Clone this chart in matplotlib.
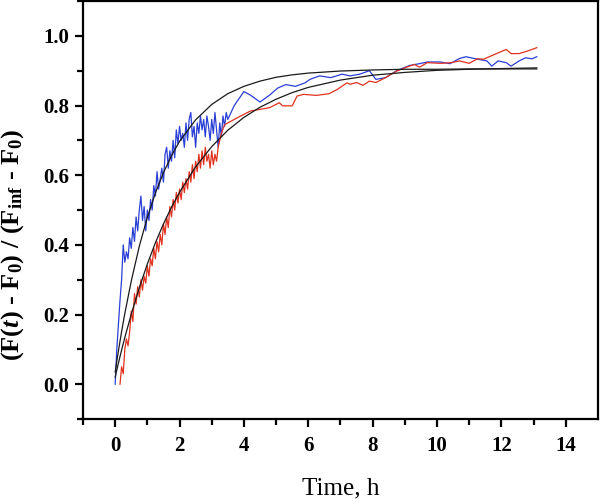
import numpy as np
import matplotlib
matplotlib.use("Agg")
import matplotlib.pyplot as plt

plt.rcParams["font.family"] = "Liberation Serif"
plt.rcParams["mathtext.fontset"] = "custom"
plt.rcParams["mathtext.rm"] = "Liberation Serif"
plt.rcParams["mathtext.bf"] = "Liberation Serif:bold"
plt.rcParams["mathtext.it"] = "Liberation Serif:italic"
plt.rcParams["mathtext.bfit"] = "Liberation Serif:bold:italic"

# blue series, dense part (every 0.05 h from t = 0)
blue_dense = [0.00, 0.10, 0.17, 0.24, 0.30, 0.40, 0.35, 0.38, 0.36, 0.42,
              0.39, 0.45, 0.41, 0.48, 0.44, 0.50, 0.54, 0.47, 0.51, 0.44,
              0.50, 0.47, 0.53, 0.50, 0.57, 0.54, 0.61, 0.56, 0.59, 0.62,
              0.58, 0.66, 0.68, 0.62, 0.67, 0.64, 0.70, 0.65, 0.73, 0.69,
              0.74, 0.70, 0.72, 0.68, 0.75, 0.70, 0.76, 0.78, 0.71, 0.74,
              0.68, 0.75, 0.72, 0.77, 0.73, 0.76, 0.71, 0.77, 0.74, 0.70,
              0.76, 0.72, 0.78, 0.73, 0.68, 0.75, 0.71, 0.77, 0.74, 0.78,
              0.76]
# blue series, sparse part
blue_t = [3.6, 3.7, 3.85, 4.0, 4.2, 4.5, 4.8, 5.05, 5.3, 5.6, 5.9, 6.05, 6.35,
          6.7, 7.05, 7.3, 7.6, 7.9, 8.1, 8.4, 8.75, 9.15, 9.45, 9.7, 10.1,
          10.4, 10.7, 10.9, 11.25, 11.55, 11.7, 11.9, 12.15, 12.3, 12.55,
          12.75, 12.95, 13.1]
blue_y = [0.78, 0.80, 0.82, 0.84, 0.83, 0.81, 0.83, 0.85, 0.86, 0.855, 0.865,
          0.875, 0.885, 0.88, 0.89, 0.885, 0.89, 0.90, 0.875, 0.88, 0.90,
          0.915, 0.92, 0.925, 0.925, 0.92, 0.935, 0.94, 0.933, 0.928, 0.913,
          0.928, 0.923, 0.913, 0.928, 0.937, 0.934, 0.94]

# red series, dense part (every 0.05 h from t = 0.15)
red_dense = [0.00, 0.05, 0.03, 0.10, 0.13, 0.11, 0.15, 0.21, 0.18, 0.26,
             0.23, 0.28, 0.25, 0.30, 0.27, 0.31, 0.29, 0.34, 0.31, 0.36,
             0.34, 0.39, 0.36, 0.41, 0.38, 0.43, 0.40, 0.46, 0.43, 0.48,
             0.45, 0.51, 0.48, 0.53, 0.50, 0.55, 0.52, 0.56, 0.53, 0.58,
             0.55, 0.59, 0.56, 0.61, 0.58, 0.63, 0.59, 0.64, 0.61, 0.66,
             0.62, 0.67, 0.63, 0.68, 0.64, 0.66, 0.62, 0.67, 0.63, 0.66,
             0.64, 0.68]
red_t = [3.3, 3.4, 3.6, 3.9, 4.2, 4.5, 4.8, 5.1, 5.2, 5.5, 5.65, 5.85, 6.25,
         6.65, 6.9, 7.2, 7.3, 7.5, 7.7, 7.9, 8.1, 8.4, 8.75, 9.05, 9.3, 9.45,
         9.7, 10.1, 10.45, 10.7, 11.0, 11.25, 11.45, 11.8, 12.15, 12.3, 12.55,
         12.8, 13.1]
red_y = [0.72, 0.745, 0.755, 0.77, 0.784, 0.789, 0.794, 0.808, 0.799, 0.799,
         0.827, 0.832, 0.829, 0.834, 0.846, 0.865, 0.861, 0.866, 0.858, 0.870,
         0.866, 0.88, 0.899, 0.91, 0.918, 0.91, 0.923, 0.921, 0.923, 0.928,
         0.921, 0.934, 0.933, 0.947, 0.961, 0.949, 0.949, 0.956, 0.966]

# fitted curves
fit_t = [0, 0.1, 0.2, 0.3, 0.5, 0.75, 1.0, 1.25, 1.5, 1.75, 2.0, 2.5, 3.0,
         3.5, 4.0, 4.5, 5.0, 5.5, 6.0, 7.0, 8.0, 9.0, 10.0, 11.0, 12.0, 13.1]
fit_blue = [0.035, 0.095, 0.151, 0.203, 0.296, 0.396, 0.479, 0.549, 0.607,
            0.656, 0.697, 0.759, 0.803, 0.834, 0.855, 0.870, 0.881, 0.888,
            0.893, 0.899, 0.902, 0.904, 0.904, 0.905, 0.905, 0.905]
fit_red = [0.020, 0.060, 0.098, 0.134, 0.201, 0.277, 0.345, 0.406, 0.460,
           0.508, 0.551, 0.624, 0.682, 0.729, 0.766, 0.795, 0.818, 0.837,
           0.852, 0.873, 0.887, 0.895, 0.901, 0.904, 0.906, 0.908]

t_blue = np.round(np.arange(len(blue_dense)) * 0.05, 2)
t_red = np.round(0.15 + np.arange(len(red_dense)) * 0.05, 2)

fig = plt.figure(figsize=(6, 4.99), dpi=100)
ax = fig.add_axes([0.1383, 0.1603, 0.8583, 0.8377])

ax.plot(list(t_blue) + blue_t, blue_dense + blue_y, color="#2a3fd6", lw=0.9)
ax.plot(list(t_red) + red_t, red_dense + red_y, color="#e0321e", lw=0.9)
ax.plot(fit_t, fit_blue, color="#1a1a1a", lw=0.9)
ax.plot(fit_t, fit_red, color="#1a1a1a", lw=0.9)

ax.set_xlim(-1, 15)
ax.set_ylim(-0.1, 1.1)
ax.set_xticks(np.arange(0, 15, 2))
ax.set_xticks(np.arange(-1, 15, 1), minor=True)
ax.set_yticks([0.0, 0.2, 0.4, 0.6, 0.8, 1.0])
ax.set_yticks(np.arange(-0.1, 1.11, 0.1), minor=True)
ax.set_yticklabels(["0.0", "0.2", "0.4", "0.6", "0.8", "1.0"])

for s in ax.spines.values():
    s.set_linewidth(1.6)
ax.tick_params(which="major", direction="out", length=6, width=1.6,
               labelsize=15, top=False, right=False)
ax.tick_params(which="minor", direction="out", length=4, width=1.6,
               top=False, right=False)
ax.tick_params(axis="x", pad=6)
ax.tick_params(axis="y", pad=4)
for lab in ax.get_xticklabels() + ax.get_yticklabels():
    lab.set_fontweight("bold")

ax.set_xlabel("Time, h", fontsize=18, labelpad=16)
ax.set_ylabel(r"(F($\mathbfit{t}$) - F$_\mathbf{0}$) / (F$_\mathbf{inf}$ - F$_\mathbf{0}$)",
              fontsize=19, fontweight="bold")
ax.yaxis.set_label_coords(-0.11, 0.416)

fig.savefig("out.png", dpi=100)
